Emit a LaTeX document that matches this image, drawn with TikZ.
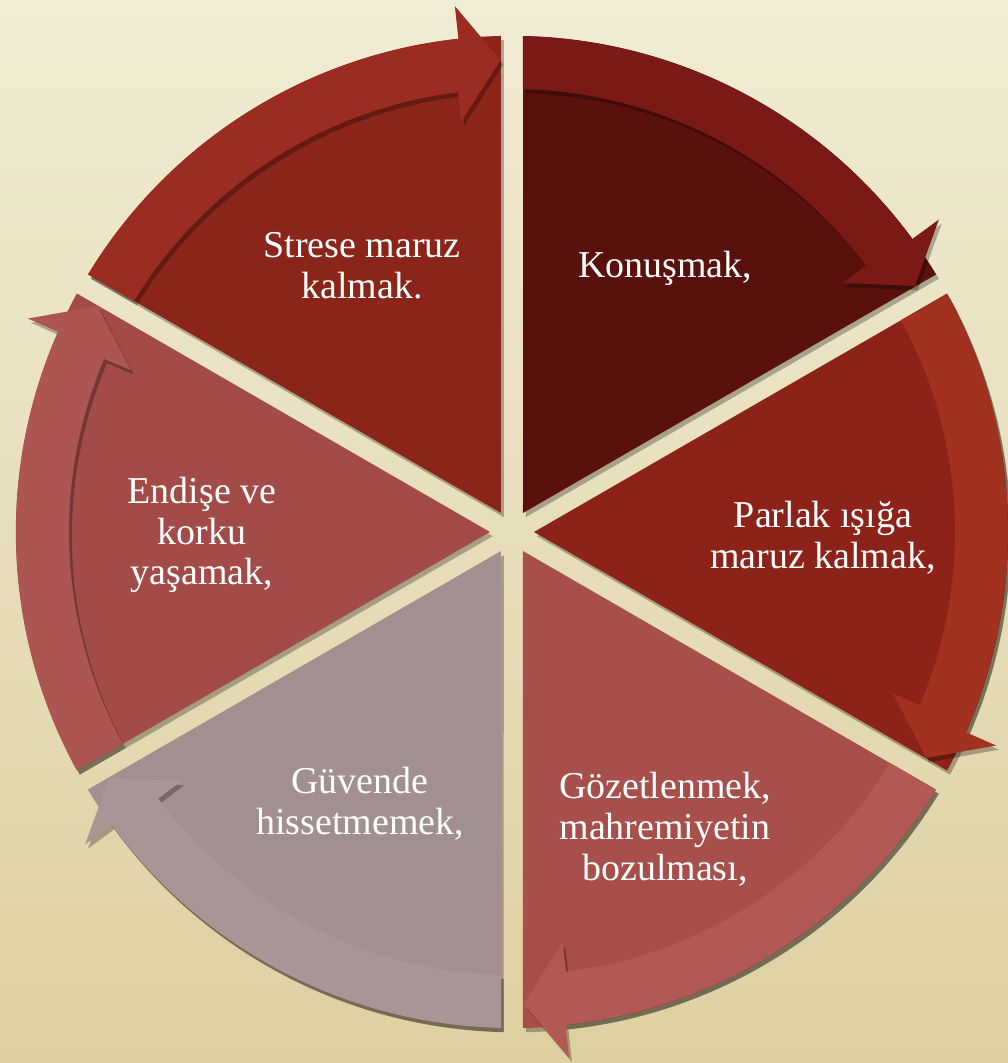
\documentclass[tikz,border=0pt]{standalone}
\usepackage{fontspec}
\setmainfont{Liberation Serif}
\usepackage{tikz}
\usetikzlibrary{calc,shadows}

\definecolor{bgtop}{HTML}{F1ECD4}
\definecolor{bgmid}{HTML}{EEE7CA}
\definecolor{bgbot}{HTML}{DDD0A0}
% sector / arrow colours, clockwise from the top
\definecolor{konsec}{HTML}{5A110E}
\definecolor{konarr}{HTML}{7B1A14}
\definecolor{parsec}{HTML}{8C2218}
\definecolor{pararr}{HTML}{A2321F}
\definecolor{gozsec}{HTML}{A64F4B}
\definecolor{gozarr}{HTML}{B25953}
\definecolor{guvsec}{HTML}{A29090}
\definecolor{guvarr}{HTML}{A89696}
\definecolor{endsec}{HTML}{A24B49}
\definecolor{endarr}{HTML}{AC5552}
\definecolor{strsec}{HTML}{8B2419}
\definecolor{strarr}{HTML}{9A2C22}

\tikzset{
  segshadow/.style={drop shadow={shadow xshift=2pt, shadow yshift=-3pt, opacity=0.28, fill=black}},
  lbl/.style={text=white, align=center, font=\fontsize{27}{29}\selectfont}
}

\begin{document}
\begin{tikzpicture}[scale=2.5]
  % background
  \useasboundingbox (-5.12,-5.31) rectangle (4.96,5.32);
  \shade[top color=bgtop, middle color=bgmid, bottom color=bgbot] (-5.12,-5.31) rectangle (4.96,5.32);
  % pie sectors (angle of clockwise edge / colour)
  \foreach [count=\i] \a/\sc in {30/konsec,-30/parsec,-90/gozsec,-150/guvsec,150/endsec,90/strsec} {
    \fill[fill=\sc, segshadow] ($(\a+30:0.22)+(\a:4.77)$)
      arc[start angle=\a+1.27, end angle=\a+58.73, radius=4.96]
      -- (\a+30:0.22) -- cycle;
  }
  % curved arrows, clockwise
  \foreach [count=\i] \a/\ac in {30/konarr,-30/pararr,-90/gozarr,-150/guvarr,150/endarr,90/strarr} {
    \fill[fill=\ac, segshadow] (\a+58.73:4.96)
      arc[start angle=\a+58.73, end angle=\a+6.2, radius=4.96]
      -- (\a+6.2:5.29) -- (\a+1.4:4.72) -- (\a+7.0:4.14) -- (\a+7.0:4.43)
      arc[start angle=\a+7.0, end angle=\a+58.58, radius=4.43] -- cycle;
  }
  % labels
  \node[lbl] (konus) at (1.53,2.64) {Konuşmak,};
  \node[lbl] (parlak) at (3.11,-0.06) {Parlak ışığa\\maruz kalmak,};
  \node[lbl] (gozet) at (1.53,-2.97) {Gözetlenmek,\\mahremiyetin\\bozulması,};
  \node[lbl] (guven) at (-1.52,-2.72) {Güvende\\hissetmemek,};
  \node[lbl] (endise) at (-3.10,-0.03) {Endişe ve\\korku\\yaşamak,};
  \node[lbl] (stres) at (-1.50,2.66) {Strese maruz\\kalmak.};
\end{tikzpicture}
\end{document}
